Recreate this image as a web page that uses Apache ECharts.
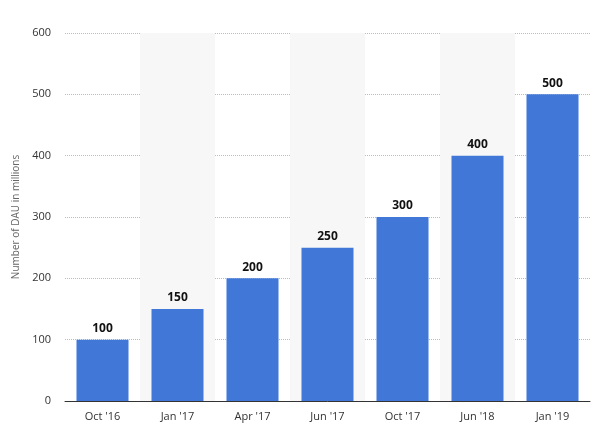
<!DOCTYPE html>
<html><head><meta charset="utf-8">
<script src="https://cdn.jsdelivr.net/npm/echarts@6/dist/echarts.min.js"></script>
<style>html,body{margin:0;padding:0;background:#fff}#c{width:600px;height:438px}</style>
</head><body><div id="c"></div>
<script>
const categories = ["Oct '16","Jan '17","Apr '17","Jun '17","Oct '17","Jun '18","Jan '19"];
const values = [100,150,200,250,300,400,500];
const yTicks = {min:0,max:600,interval:100};
const chart = echarts.init(document.getElementById('c'));
chart.setOption({
  animation:false,
  grid:{left:65,right:10,top:33,bottom:37},
  xAxis:{type:'category',data:categories,
    axisLine:{lineStyle:{color:'#333'}},axisTick:{show:false},
    axisLabel:{color:'#333',fontSize:11,margin:10,fontFamily:'Open Sans'},
    splitArea:{show:true,areaStyle:{color:['rgba(255,255,255,0)','#f7f7f7']}}},
  yAxis:{type:'value',min:yTicks.min,max:yTicks.max,interval:yTicks.interval,
    name:'Number of DAU in millions',nameLocation:'middle',nameGap:42,
    nameTextStyle:{color:'#666',fontSize:10,fontFamily:'Open Sans'},
    axisLabel:{color:'#333',fontSize:11,margin:14,fontFamily:'Open Sans'},
    axisLine:{show:false},axisTick:{show:false},
    splitLine:{lineStyle:{color:'#bbb',type:'dotted'}}},
  series:[{type:'bar',data:values,barWidth:52,
    itemStyle:{color:'#4178d7'},
    label:{show:true,position:'top',color:'#111',fontWeight:'bold',fontSize:12,fontFamily:'Open Sans',distance:5}}]
});
</script></body></html>
